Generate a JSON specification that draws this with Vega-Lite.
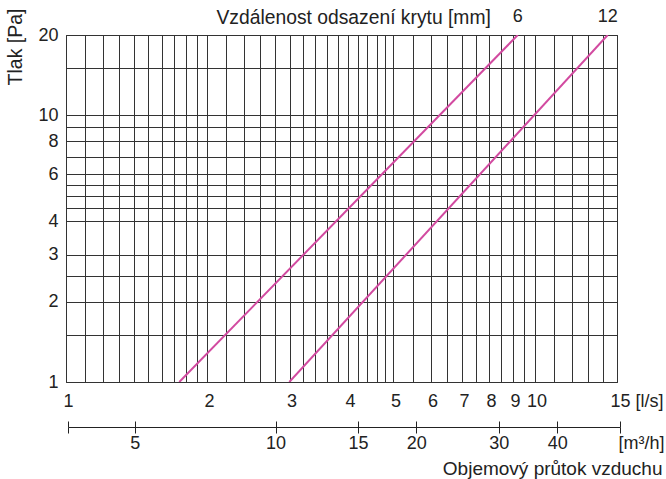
{
  "$schema": "https://vega.github.io/schema/vega-lite/v6.json",
  "width": 551,
  "height": 347,
  "autosize": "none",
  "padding": {"left": 66, "top": 35, "right": 49, "bottom": 97},
  "background": "white",
  "config": {
    "view": {"stroke": "#222", "strokeWidth": 1},
    "font": "Liberation Sans",
    "axis": {
      "labelFont": "Liberation Sans",
      "titleFont": "Liberation Sans",
      "labelFontSize": 18,
      "titleFontSize": 18,
      "titleFontWeight": "normal",
      "labelColor": "#222",
      "titleColor": "#222"
    }
  },
  "datasets": {
    "curves": [
      {"d": "6", "Q": 1.745, "p": 1},
      {"d": "6", "Q": 9.21, "p": 20},
      {"d": "12", "Q": 2.997, "p": 1},
      {"d": "12", "Q": 14.33, "p": 20}
    ],
    "m3h": [
      {"m3h": 3.6},
      {"m3h": 54.5}
    ]
  },
  "layer": [
    {
      "data": {"name": "curves"},
      "mark": {"type": "line", "color": "#d24aa0", "strokeWidth": 2, "clip": true},
      "encoding": {
        "x": {
          "field": "Q", "type": "quantitative",
          "scale": {"type": "log", "domain": [1, 15], "nice": false},
          "axis": {
            "orient": "bottom",
            "values": [1, 1.1, 1.2, 1.3, 1.4, 1.5, 1.6, 1.7, 1.8, 1.9, 2, 2.2, 2.4, 2.6, 2.8, 3, 3.2, 3.4, 3.6, 3.8, 4, 4.2, 4.4, 4.6, 4.8, 5, 5.5, 6, 6.5, 7, 7.5, 8, 8.5, 9, 9.5, 10, 11, 12, 13, 14, 15],
            "labelExpr": "indexof([1,2,3,4,5,6,7,8,9,10,15], datum.value) >= 0 ? (datum.value == 15 ? '15 [l/s]' : format(datum.value, 'd')) : ''",
            "grid": true,
            "gridColor": "#333",
            "gridWidth": 1,
            "gridOpacity": 1,
            "ticks": false,
            "tickSize": 0,
            "domain": false,
            "labelPadding": 10,
            "labelFlush": false,
            "labelOverlap": false,
            "labelAlign": {"condition": {"test": "datum.value == 15", "value": "left"}, "value": "center"},
            "labelOffset": {"condition": {"test": "datum.value == 15", "value": -7}, "value": 2},
            "title": null
          }
        },
        "y": {
          "field": "p", "type": "quantitative",
          "scale": {"type": "log", "domain": [1, 20], "nice": false},
          "axis": {
            "values": [1, 1.5, 2, 2.5, 3, 4, 4.5, 5, 5.5, 6, 7, 8, 9, 10, 15, 20],
            "labelExpr": "indexof([1,2,3,4,6,8,10,20], datum.value) >= 0 ? format(datum.value, 'd') : ''",
            "grid": true,
            "gridColor": "#333",
            "gridWidth": 1,
            "gridOpacity": 1,
            "ticks": false,
            "tickSize": 0,
            "domain": false,
            "labelPadding": 8,
            "labelOverlap": false,
            "labelFlush": false,
            "title": "Tlak [Pa]",
            "titleFontSize": 19.5,
            "titleX": -51,
            "titleY": -27,
            "titleAlign": "right",
            "titleBaseline": "middle",
            "titleAngle": -90
          }
        },
        "detail": {"field": "d", "type": "nominal"}
      }
    },
    {
      "data": {"name": "curves"},
      "transform": [{"filter": "datum.p == 20"}],
      "mark": {"type": "text", "fontSize": 18, "dy": -18, "color": "#222", "baseline": "middle", "align": "center", "font": "Liberation Sans"},
      "encoding": {
        "x": {
          "field": "Q", "type": "quantitative",
          "scale": {"type": "log", "domain": [1, 15], "nice": false},
          "axis": {
            "orient": "top",
            "labels": false,
            "ticks": false,
            "domain": false,
            "grid": false,
            "title": "Vzdálenost odsazení krytu [mm]",
            "titleFontSize": 19.3,
            "titleX": 150,
            "titleY": -18,
            "titleAlign": "left",
            "titleBaseline": "middle",
            "titleAngle": 0
          }
        },
        "y": {"field": "p", "type": "quantitative", "scale": {"type": "log", "domain": [1, 20], "nice": false}},
        "text": {"field": "d"}
      }
    },
    {
      "data": {"name": "m3h"},
      "mark": {"type": "point", "opacity": 0},
      "encoding": {
        "x": {
          "field": "m3h", "type": "quantitative",
          "scale": {"type": "log", "domain": [3.6, 54.5], "range": [2, 554], "nice": false},
          "axis": {
            "orient": "bottom",
            "offset": 45,
            "values": [3.6, 5, 10, 15, 20, 30, 40, 54.5],
            "labelExpr": "datum.value == 3.6 ? '' : (datum.value == 54.5 ? '[m³/h]' : format(datum.value, 'd'))",
            "grid": false,
            "ticks": true,
            "tickSize": 6,
            "tickColor": "#222",
            "tickWidth": 1,
            "domain": true,
            "domainColor": "#222",
            "domainWidth": 1,
            "labelPadding": 1,
            "labelFlush": false,
            "labelOverlap": false,
            "labelAlign": {"condition": {"test": "datum.value == 54.5", "value": "left"}, "value": "center"},
            "labelOffset": {"condition": {"test": "datum.value == 54.5", "value": -2}, "value": 0},
            "title": "Objemový průtok vzduchu",
            "titleFontSize": 19,
            "titleX": 596,
            "titleY": 41,
            "titleAlign": "right",
            "titleBaseline": "middle",
            "titleAngle": 0
          }
        }
      }
    },
    {
      "data": {"name": "m3h"},
      "mark": {"type": "point", "opacity": 0},
      "encoding": {
        "x": {
          "field": "m3h", "type": "quantitative",
          "scale": {"type": "log", "domain": [3.6, 54.5], "range": [2, 554], "nice": false},
          "axis": {
            "orient": "bottom",
            "offset": 39,
            "values": [3.6, 5, 10, 15, 20, 30, 40, 54.5],
            "labels": false,
            "grid": false,
            "ticks": true,
            "tickSize": 6,
            "tickColor": "#222",
            "tickWidth": 1,
            "domain": false,
            "title": null
          }
        }
      }
    }
  ],
  "resolve": {"scale": {"x": "independent"}, "axis": {"x": "independent"}}
}
